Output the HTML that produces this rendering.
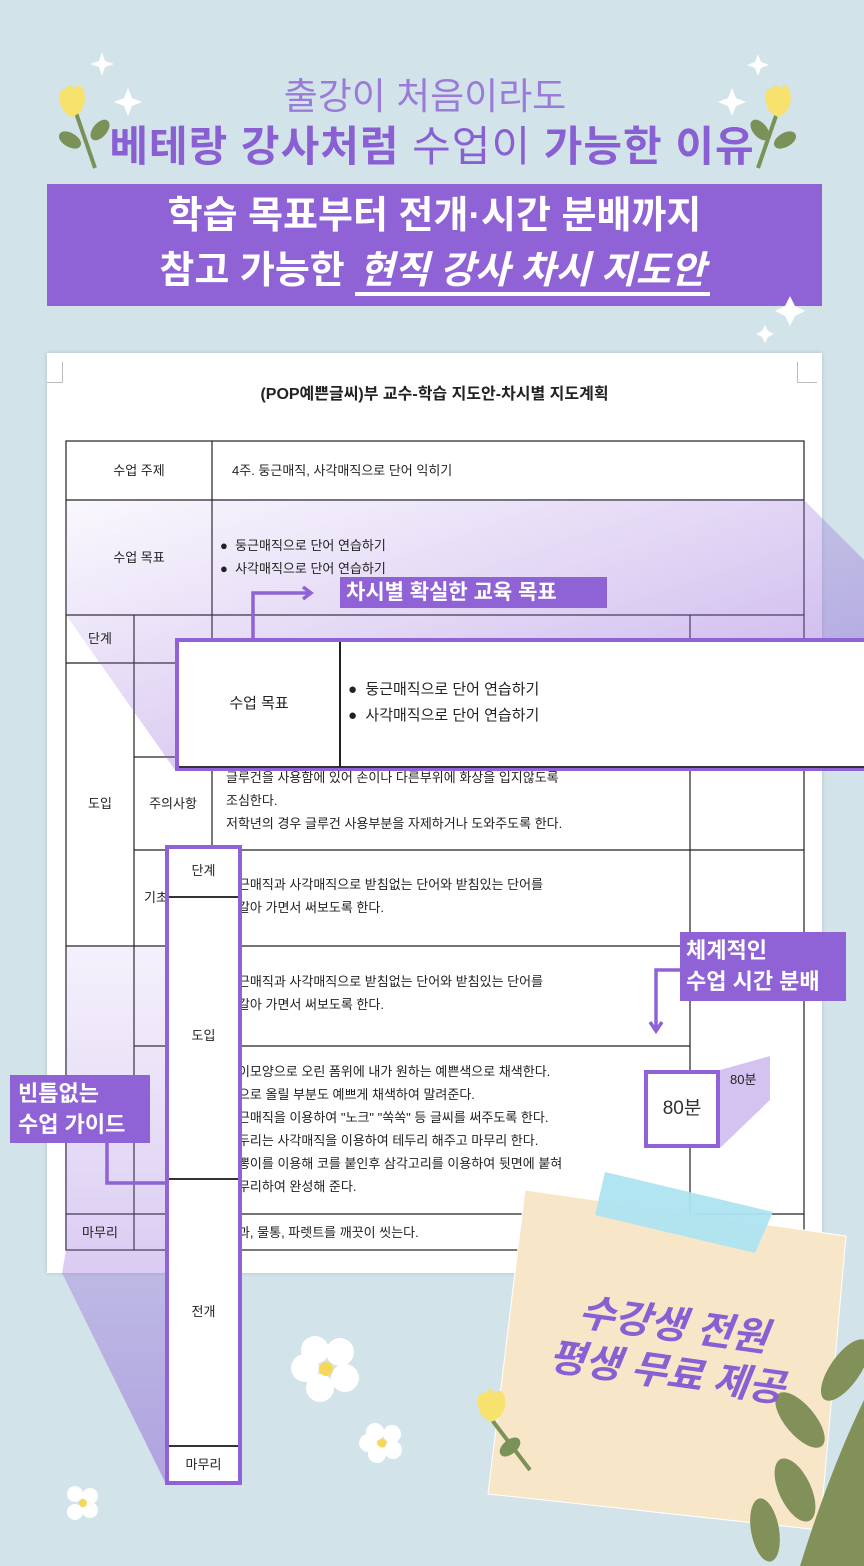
<!DOCTYPE html>
<html><head><meta charset="utf-8">
<style>
*{margin:0;padding:0;box-sizing:border-box}
body{width:864px;height:1566px;background:#d2e3e9;position:relative;overflow:hidden;font-family:"Liberation Sans","Noto Sans CJK KR",sans-serif}
.a{position:absolute}
.t{font-family:"Liberation Sans","Noto Sans CJK KR",sans-serif}
.cell{position:absolute;font-size:13px;color:#222;line-height:23px}
.lbl{position:absolute;background:#8f62d6;color:#fff;font-weight:bold}
</style></head><body>

<div class="a t" style="left:0;width:850px;top:72px;text-align:center;font-size:37px;color:#9a7bd8;line-height:50px">출강이 처음이라도</div>
<div class="a t" style="left:0;width:864px;top:120px;text-align:center;font-size:42px;color:#8a5fd4;line-height:54px;font-weight:bold;letter-spacing:1px">베테랑 강사처럼 <span style="font-weight:normal">수업이</span> 가능한 이유</div>
<div class="a" style="left:47px;top:184px;width:775px;height:122px;background:#8f62d6"></div>
<div class="a t" style="left:47px;width:775px;top:190px;text-align:center;color:#fff;font-size:38px;line-height:52px;font-weight:bold">학습 목표부터 전개·시간 분배까지</div>
<div class="a t" style="left:47px;width:775px;top:244px;text-align:center;color:#fff;font-size:38px;line-height:54px;font-weight:bold">참고 가능한 <i style="border-bottom:4px solid #fff;padding:0 4px">현직 강사 차시 지도안</i></div>

<svg class="a" style="left:0;top:0" width="864" height="360">
<g fill="#fff">
<path d="M102 52 l3 9 9 3 -9 3 -3 9 -3 -9 -9 -3 9 -3z"/>
<path d="M128 88 l4 10 10 4 -10 4 -4 10 -4 -10 -10 -4 10 -4z"/>
<path d="M758 54 l3 8 8 3 -8 3 -3 8 -3 -8 -8 -3 8 -3z"/>
<path d="M732 88 l4 10 10 4 -10 4 -4 10 -4 -10 -10 -4 10 -4z"/>
<path d="M790 296 l5 10 10 5 -10 5 -5 10 -5 -10 -10 -5 10 -5z"/>
<path d="M765 325 l3 6 6 3 -6 3 -3 6 -3 -6 -6 -3 6 -3z"/>
</g>
<g stroke="#7a9158" stroke-width="4" fill="#7a9158">
<line x1="75" y1="110" x2="95" y2="168"/>
<ellipse cx="70" cy="140" rx="10" ry="5" transform="rotate(30 70 140)"/>
<ellipse cx="100" cy="130" rx="10" ry="5" transform="rotate(-50 100 130)"/>
<line x1="778" y1="110" x2="758" y2="168"/>
<ellipse cx="785" cy="140" rx="10" ry="5" transform="rotate(-30 785 140)"/>
<ellipse cx="760" cy="130" rx="10" ry="5" transform="rotate(50 760 130)"/>
</g>
<g fill="#f7e26e">
<path d="M60 95 q0 -8 6 -6 q4 -8 8 0 q6 -8 10 2 q4 20 -12 26 q-14 -6 -12 -22z"/>
<path d="M766 95 q0 -8 6 -6 q4 -8 8 0 q6 -8 10 2 q4 20 -12 26 q-14 -6 -12 -22z"/>
</g>
</svg>

<div class="a" style="left:47px;top:353px;width:775px;height:920px;background:#fff;box-shadow:0 0 4px rgba(0,0,0,.15)"></div>
<div class="a" style="left:62px;top:362px;width:1px;height:20px;background:#bbb"></div>
<div class="a" style="left:47px;top:382px;width:16px;height:1px;background:#bbb"></div>
<div class="a" style="left:797px;top:362px;width:1px;height:20px;background:#bbb"></div>
<div class="a" style="left:797px;top:382px;width:20px;height:1px;background:#bbb"></div>
<div class="a t" style="left:47px;width:775px;top:380px;text-align:center;font-size:16px;font-weight:bold;color:#222">(POP예쁜글씨)부 교수-학습 지도안-차시별 지도계획</div>

<svg class="a" style="left:0;top:0" width="864" height="1566">
<defs>
<linearGradient id="g1" x1="0" y1="0" x2="1" y2="1">
<stop offset="0" stop-color="#9a72dc" stop-opacity=".05"/>
<stop offset="1" stop-color="#8f62d6" stop-opacity=".55"/>
</linearGradient>
<linearGradient id="g2" x1="0" y1="0" x2="0" y2="1">
<stop offset="0" stop-color="#9a72dc" stop-opacity=".1"/>
<stop offset="1" stop-color="#8f62d6" stop-opacity=".5"/>
</linearGradient>
</defs>
<g stroke="#222" stroke-width="1.2" fill="none">
<rect x="66" y="441" width="738" height="809"/>
<line x1="66" y1="500" x2="804" y2="500"/>
<line x1="66" y1="615" x2="804" y2="615"/>
<line x1="66" y1="663" x2="804" y2="663"/>
<line x1="212" y1="441" x2="212" y2="1250"/>
<line x1="134" y1="615" x2="134" y2="1250"/>
<line x1="690" y1="615" x2="690" y2="1250"/>
<line x1="134" y1="757" x2="690" y2="757"/>
<line x1="134" y1="850" x2="804" y2="850"/>
<line x1="66" y1="946" x2="804" y2="946"/>
<line x1="134" y1="1046" x2="690" y2="1046"/>
<line x1="66" y1="1214" x2="804" y2="1214"/>
</g>
<polygon points="66,500 804,500 864,560 864,640 175,640 175,770 66,615" fill="url(#g1)"/>
<polygon points="66,946 165,946 165,1482 62,1273 66,1250" fill="url(#g2)"/>
<polygon points="720,1070 770,1056 770,1100 720,1148" fill="#b79be6" opacity=".6"/>
<g stroke="#8f62d6" stroke-width="3.5" fill="none">
<polyline points="253,638 253,593 310,593"/>
<polyline points="303,587 311,593 303,599"/>
<polyline points="680,970 656,970 656,1030"/>
<polyline points="650,1022 656,1031 662,1022"/>
<polyline points="165,1183 107,1183 107,1132"/>
<polyline points="101,1140 107,1131 113,1140"/>
</g>
</svg>

<div class="cell" style="left:66px;width:146px;top:459px;text-align:center">수업 주제</div>
<div class="cell" style="left:232px;top:459px">4주. 둥근매직, 사각매직으로 단어 익히기</div>
<div class="cell" style="left:66px;width:146px;top:546px;text-align:center">수업 목표</div>
<div class="cell" style="left:220px;top:534px">●&nbsp; 둥근매직으로 단어 연습하기<br>●&nbsp; 사각매직으로 단어 연습하기</div>
<div class="cell" style="left:66px;width:68px;top:627px;text-align:center">단계</div>
<div class="cell" style="left:66px;width:68px;top:792px;text-align:center">도입</div>
<div class="cell" style="left:134px;width:78px;top:792px;text-align:center">주의사항</div>
<div class="cell" style="left:144px;top:886px">기초</div>
<div class="cell" style="left:226px;top:766px">글루건을 사용함에 있어 손이나 다른부위에 화상을 입지않도록<br>조심한다.<br>저학년의 경우 글루건 사용부분을 자제하거나 도와주도록 한다.</div>
<div class="cell" style="left:226px;top:873px">둥근매직과 사각매직으로 받침없는 단어와 받침있는 단어를<br>번갈아 가면서 써보도록 한다.</div>
<div class="cell" style="left:226px;top:970px">둥근매직과 사각매직으로 받침없는 단어와 받침있는 단어를<br>번갈아 가면서 써보도록 한다.</div>
<div class="cell" style="left:226px;top:1060px">꽃이모양으로 오린 폼위에 내가 원하는 예쁜색으로 채색한다.<br>안으로 올릴 부분도 예쁘게 채색하여 말려준다.<br>둥근매직을 이용하여 "노크" "쏙쏙" 등 글씨를 써주도록 한다.<br>테두리는 사각매직을 이용하여 테두리 해주고 마무리 한다.<br>뽕뽕이를 이용해 코를 붙인후 삼각고리를 이용하여 뒷면에 붙혀<br>마무리하여 완성해 준다.</div>
<div class="cell" style="left:66px;width:68px;top:1221px;text-align:center">마무리</div>
<div class="cell" style="left:226px;top:1221px">붓과, 물통, 파렛트를 깨끗이 씻는다.</div>
<div class="cell" style="left:730px;top:1068px">80분</div>

<div class="a" style="left:175px;top:638px;width:700px;height:133px;background:#fff;border:4px solid #8f62d6"></div>
<div class="a" style="left:179px;top:766px;width:690px;height:2px;background:#333"></div>
<div class="a" style="left:339px;top:642px;width:1.5px;height:125px;background:#222"></div>
<div class="cell" style="left:179px;width:160px;top:692px;text-align:center;font-size:15px">수업 목표</div>
<div class="cell" style="left:348px;top:677px;font-size:15px;line-height:26px">●&nbsp; 둥근매직으로 단어 연습하기<br>●&nbsp; 사각매직으로 단어 연습하기</div>
<div class="lbl" style="left:340px;top:577px;width:267px;height:31px;font-size:21px;line-height:31px;padding-left:6px">차시별 확실한 교육 목표</div>

<div class="a" style="left:165px;top:845px;width:77px;height:640px;background:#fff;border:4px solid #8f62d6"></div>
<div class="a" style="left:169px;top:896px;width:69px;height:1.5px;background:#333"></div>
<div class="a" style="left:169px;top:1178px;width:69px;height:1.5px;background:#333"></div>
<div class="a" style="left:169px;top:1445px;width:69px;height:1.5px;background:#333"></div>
<div class="cell" style="left:165px;width:77px;top:859px;text-align:center">단계</div>
<div class="cell" style="left:165px;width:77px;top:1024px;text-align:center">도입</div>
<div class="cell" style="left:165px;width:77px;top:1300px;text-align:center">전개</div>
<div class="cell" style="left:165px;width:77px;top:1453px;text-align:center">마무리</div>

<div class="lbl" style="left:10px;top:1075px;width:140px;height:68px;font-size:22px;line-height:31px;padding:3px 0 0 8px">빈틈없는<br>수업 가이드</div>
<div class="lbl" style="left:680px;top:932px;width:166px;height:69px;font-size:22px;line-height:31px;padding:3px 0 0 6px">체계적인<br>수업 시간 분배</div>
<div class="a" style="left:644px;top:1070px;width:76px;height:78px;background:#fff;border:4px solid #8f62d6;font-size:19px;text-align:center;line-height:70px;color:#333">80분</div>

<svg class="a" style="left:0;top:0" width="864" height="1566">
<polygon points="525,1190 846,1236 820,1530 488,1494" fill="#f8e6c9" stroke="#fff" stroke-width="1"/>
<polygon points="605,1172 773,1212 755,1253 595,1215" fill="#ade4f0" opacity=".95"/>
<g fill="#82905a">
<path d="M800 1566 Q830 1470 864 1400 L864 1566z"/>
<ellipse cx="845" cy="1370" rx="15" ry="36" transform="rotate(35 845 1370)"/>
<ellipse cx="800" cy="1420" rx="15" ry="34" transform="rotate(-40 800 1420)"/>
<ellipse cx="795" cy="1490" rx="16" ry="34" transform="rotate(-25 795 1490)"/>
<ellipse cx="765" cy="1530" rx="14" ry="32" transform="rotate(-10 765 1530)"/>
</g>
<g stroke="#7a9158" stroke-width="4" fill="#7a9158">
<line x1="492" y1="1420" x2="530" y2="1470"/>
<ellipse cx="510" cy="1447" rx="10" ry="5" transform="rotate(-40 510 1447)"/>
</g>
<path d="M478 1400 q0 -10 7 -6 q5 -10 10 0 q7 -8 10 4 q2 18 -14 24 q-14 -6 -13 -22z" fill="#f7e26e"/>
<g fill="#fff">
<circle cx="315" cy="1350" r="14"/><circle cx="340" cy="1352" r="14"/><circle cx="345" cy="1378" r="14"/><circle cx="320" cy="1388" r="14"/><circle cx="305" cy="1368" r="14"/>
<circle cx="375" cy="1432" r="9"/><circle cx="392" cy="1434" r="9"/><circle cx="393" cy="1450" r="9"/><circle cx="377" cy="1454" r="9"/><circle cx="368" cy="1443" r="9"/>
<circle cx="75" cy="1494" r="8"/><circle cx="90" cy="1496" r="8"/><circle cx="90" cy="1510" r="8"/><circle cx="75" cy="1512" r="8"/>
</g>
<circle cx="326" cy="1369" r="7" fill="#f7d75a"/>
<circle cx="382" cy="1443" r="4.5" fill="#f7d75a"/>
<circle cx="83" cy="1503" r="4" fill="#f7d75a"/>
</svg>
<div class="a t" style="left:520px;top:1302px;width:300px;transform:rotate(8deg);color:#8a5fd4;font-size:39px;line-height:48px;font-weight:bold;text-align:center;font-style:italic">수강생 전원<br>평생 무료 제공</div>

</body></html>
